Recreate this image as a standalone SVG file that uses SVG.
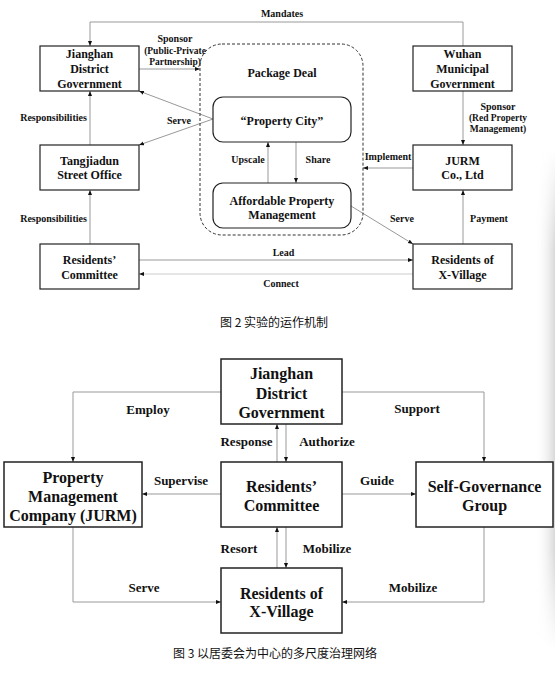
<svg xmlns="http://www.w3.org/2000/svg" width="555" height="679" viewBox="0 0 555 679">
<defs>
<marker id="ah" viewBox="0 0 10 10" refX="10" refY="5" markerWidth="5" markerHeight="5" orient="auto" markerUnits="userSpaceOnUse"><path d="M0,1 L10,5 L0,9 z" fill="#111"/></marker>
<linearGradient id="shadeH" x1="0" y1="0" x2="1" y2="0"><stop offset="0" stop-color="#fff" stop-opacity="0"/><stop offset="1" stop-color="#d8d8d8" stop-opacity="1"/></linearGradient>
<linearGradient id="fadeV" x1="0" y1="0" x2="0" y2="1"><stop offset="0" stop-color="#000"/><stop offset="0.2" stop-color="#fff"/><stop offset="0.8" stop-color="#fff"/><stop offset="1" stop-color="#000"/></linearGradient>
<mask id="shadeMask"><rect x="535" y="150" width="20" height="500" fill="url(#fadeV)"/></mask>
<style>
.box{fill:#fff;stroke:#222;stroke-width:1.2}
.box2{fill:#fff;stroke:#222;stroke-width:1.5}
.dash{fill:none;stroke:#333;stroke-width:1;stroke-dasharray:3,2}
.ln{fill:none;stroke:#999;stroke-width:1;marker-end:url(#ah)}
.nt{font-family:"Liberation Serif",serif;font-weight:bold;font-size:12px;fill:#111;text-anchor:middle}
.lb{font-family:"Liberation Serif",serif;font-weight:bold;font-size:10px;fill:#111;text-anchor:middle}
.lbs{font-family:"Liberation Serif",serif;font-weight:bold;font-size:9.5px;fill:#111;text-anchor:middle}
.nt2{font-family:"Liberation Serif",serif;font-weight:bold;font-size:16px;fill:#111;text-anchor:middle}
.lb2{font-family:"Liberation Serif",serif;font-weight:bold;font-size:13px;fill:#111;text-anchor:middle}
.cap{font-family:"Noto Sans CJK SC","Noto Sans",sans-serif;font-size:12px;fill:#111;text-anchor:middle}
</style>
</defs>
<rect x="0" y="0" width="555" height="679" fill="#fff"/>
<rect x="535" y="150" width="20" height="500" fill="url(#shadeH)" mask="url(#shadeMask)"/>

<!-- Figure 2 connectors -->
<g id="connectors-fig2">
<path class="ln" d="M463,46 V22 H90 V46"/>
<path class="ln" d="M139,69 H200"/>
<path class="ln" d="M213,119 L139,91"/>
<path class="ln" d="M213,119 L139,145"/>
<path class="ln" d="M90,145 V91"/>
<path class="ln" d="M90,244 V190"/>
<path class="ln" d="M463,91 V145"/>
<path class="ln" d="M413,168 H363"/>
<path class="ln" d="M351,206 L413,244"/>
<path class="ln" d="M463,244 V190"/>
<path class="ln" d="M139,260 H413"/>
<path class="ln" d="M413,274 H139" style="stroke:#ccc"/>
<path class="ln" d="M268,183 V142"/>
<path class="ln" d="M296,142 V183"/>
<text class="lb" x="282" y="16.5">Mandates</text>
<text class="lb" x="175" y="42">Sponsor</text>
<text class="lbs" x="175" y="54">(Public-Private</text>
<text class="lbs" x="175" y="65">Partnership)</text>
<text class="lb" x="179" y="123.5">Serve</text>
<text class="lb" x="53.5" y="120.5">Responsibilities</text>
<text class="lb" x="53.5" y="221.5">Responsibilities</text>
<text class="lb" x="498" y="109.5">Sponsor</text>
<text class="lbs" x="498" y="120.5">(Red Property</text>
<text class="lbs" x="498" y="132">Management)</text>
<text class="lb" x="388" y="159.5">Implement</text>
<text class="lb" x="248" y="162.5">Upscale</text>
<text class="lb" x="318" y="162.5">Share</text>
<text class="lb" x="402" y="221.5">Serve</text>
<text class="lb" x="489" y="221.5">Payment</text>
<text class="lb" x="283.5" y="255.5">Lead</text>
<text class="lb" x="281" y="286.5">Connect</text>
</g>

<!-- Figure 2 nodes -->
<g id="package-deal">
<rect class="dash" x="200" y="44" width="163" height="191" rx="22" ry="22"/>
<text class="nt" x="282" y="77">Package Deal</text>
</g>
<g id="property-city">
<rect class="box" x="213" y="97" width="138" height="45" rx="10" ry="10"/>
<text class="nt" x="282" y="125">“Property City”</text>
</g>
<g id="affordable-pm">
<rect class="box" x="213" y="183" width="138" height="45" rx="10" ry="10"/>
<text class="nt" x="282" y="205">Affordable Property</text>
<text class="nt" x="282" y="219">Management</text>
</g>
<g id="jianghan-1">
<rect class="box" x="40" y="46" width="99" height="45"/>
<text class="nt" x="89.5" y="58">Jianghan</text>
<text class="nt" x="89.5" y="73">District</text>
<text class="nt" x="89.5" y="88">Government</text>
</g>
<g id="tangjiadun">
<rect class="box" x="40" y="145" width="99" height="45"/>
<text class="nt" x="89.5" y="165">Tangjiadun</text>
<text class="nt" x="89.5" y="179">Street Office</text>
</g>
<g id="rc-1">
<rect class="box" x="40" y="244" width="99" height="45"/>
<text class="nt" x="89.5" y="264">Residents’</text>
<text class="nt" x="89.5" y="279">Committee</text>
</g>
<g id="wuhan">
<rect class="box" x="413" y="46" width="99" height="45"/>
<text class="nt" x="462.5" y="58">Wuhan</text>
<text class="nt" x="462.5" y="73">Municipal</text>
<text class="nt" x="462.5" y="88">Government</text>
</g>
<g id="jurm-1">
<rect class="box" x="413" y="145" width="99" height="45"/>
<text class="nt" x="462.5" y="165">JURM</text>
<text class="nt" x="462.5" y="179">Co., Ltd</text>
</g>
<g id="xvillage-1">
<rect class="box" x="413" y="244" width="99" height="45"/>
<text class="nt" x="462.5" y="263.5">Residents of</text>
<text class="nt" x="462.5" y="279">X-Village</text>
</g>
<text class="cap" x="274" y="327">图 2 实验的运作机制</text>

<!-- Figure 3 connectors -->
<g id="connectors-fig3">
<path class="ln" d="M221,392 H73 V462"/>
<path class="ln" d="M342,392 H484 V462"/>
<path class="ln" d="M277,462 V424"/>
<path class="ln" d="M286,424 V462"/>
<path class="ln" d="M221,494 H142"/>
<path class="ln" d="M342,494 H416"/>
<path class="ln" d="M277,568 V527"/>
<path class="ln" d="M286,527 V568"/>
<path class="ln" d="M73,527 V602 H221"/>
<path class="ln" d="M484,527 V602 H342"/>
<text class="lb2" x="148" y="413.5">Employ</text>
<text class="lb2" x="417" y="412.5">Support</text>
<text class="lb2" x="246.5" y="446">Response</text>
<text class="lb2" x="327" y="446">Authorize</text>
<text class="lb2" x="181" y="484.5">Supervise</text>
<text class="lb2" x="377" y="485">Guide</text>
<text class="lb2" x="239" y="552.5">Resort</text>
<text class="lb2" x="327" y="552.5">Mobilize</text>
<text class="lb2" x="144" y="592">Serve</text>
<text class="lb2" x="413" y="592">Mobilize</text>
</g>

<!-- Figure 3 nodes -->
<g id="jianghan-2">
<rect class="box2" x="221" y="359" width="121" height="65"/>
<text class="nt2" x="281.5" y="378.5">Jianghan</text>
<text class="nt2" x="281.5" y="398.5">District</text>
<text class="nt2" x="281.5" y="418">Government</text>
</g>
<g id="rc-2">
<rect class="box2" x="221" y="462" width="121" height="65"/>
<text class="nt2" x="281.5" y="492">Residents’</text>
<text class="nt2" x="281.5" y="510.5">Committee</text>
</g>
<g id="xvillage-2">
<rect class="box2" x="221" y="568" width="121" height="65"/>
<text class="nt2" x="281.5" y="598.5">Residents of</text>
<text class="nt2" x="281.5" y="617">X-Village</text>
</g>
<g id="pmc">
<rect class="box2" x="4" y="462" width="138" height="65"/>
<text class="nt2" x="73" y="482.5">Property</text>
<text class="nt2" x="73" y="501.5">Management</text>
<text class="nt2" x="73" y="520.5">Company (JURM)</text>
</g>
<g id="self-gov">
<rect class="box2" x="416" y="462" width="137" height="65"/>
<text class="nt2" x="484.5" y="491.5">Self-Governance</text>
<text class="nt2" x="484.5" y="510.5">Group</text>
</g>
<text class="cap" x="275" y="658">图 3 以居委会为中心的多尺度治理网络</text>
</svg>
